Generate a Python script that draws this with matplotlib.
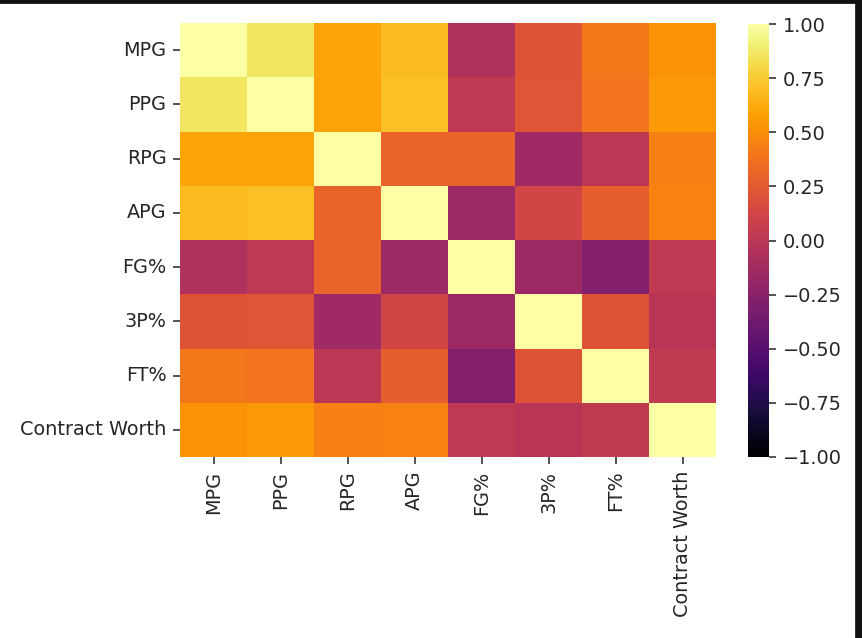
import numpy as np
import matplotlib
matplotlib.use("Agg")
import matplotlib.pyplot as plt
import seaborn as sns
from matplotlib.lines import Line2D

labels = ["MPG", "PPG", "RPG", "APG", "FG%", "3P%", "FT%", "Contract Worth"]

mpg = [1.00, 0.86, 0.60, 0.68, -0.06, 0.21, 0.40, 0.52]
ppg = [0.86, 1.00, 0.59, 0.71, 0.02, 0.22, 0.39, 0.55]
rpg = [0.60, 0.59, 1.00, 0.30, 0.30, -0.14, 0.00, 0.44]
apg = [0.68, 0.71, 0.30, 1.00, -0.15, 0.12, 0.28, 0.45]
fg = [-0.06, 0.02, 0.30, -0.15, 1.00, -0.15, -0.28, 0.02]
tp = [0.21, 0.22, -0.14, 0.12, -0.15, 1.00, 0.21, -0.01]
ft = [0.40, 0.39, 0.00, 0.28, -0.28, 0.21, 1.00, 0.03]
cw = [0.52, 0.55, 0.44, 0.45, 0.02, -0.01, 0.03, 1.00]

corr = np.array([mpg, ppg, rpg, apg, fg, tp, ft, cw])

text_color = "#262626"
plt.rcParams["text.color"] = text_color
plt.rcParams["xtick.color"] = text_color
plt.rcParams["ytick.color"] = text_color

dpi = 139
fig = plt.figure(figsize=(862 / dpi, 638 / dpi), dpi=dpi)
ax = fig.add_axes([180 / 862, 1 - 457 / 638, (716 - 180) / 862, (457 - 23) / 638])
cax = fig.add_axes([748 / 862, 1 - 457 / 638, (769 - 748) / 862, (457 - 24) / 638])

sns.heatmap(corr, vmin=-1, vmax=1, cmap="inferno", ax=ax, cbar_ax=cax,
            xticklabels=labels, yticklabels=labels)
ax.tick_params(labelsize=10)
plt.setp(ax.get_xticklabels(), rotation=90)
plt.setp(ax.get_yticklabels(), rotation=0)
cax.tick_params(labelsize=10)
cax.set_yticks([-1, -0.75, -0.5, -0.25, 0, 0.25, 0.5, 0.75, 1])
cax.set_yticklabels(["\u22121.00", "\u22120.75", "\u22120.50", "\u22120.25", "0.00",
                     "0.25", "0.50", "0.75", "1.00"])

# screenshot frame edges
fig.add_artist(Line2D([0, 1], [0.998, 0.998], transform=fig.transFigure, color="#111111", lw=3))
fig.add_artist(Line2D([0.996, 0.996], [0, 1], transform=fig.transFigure, color="#111111", lw=4))

fig.savefig("out.png", dpi=dpi)
